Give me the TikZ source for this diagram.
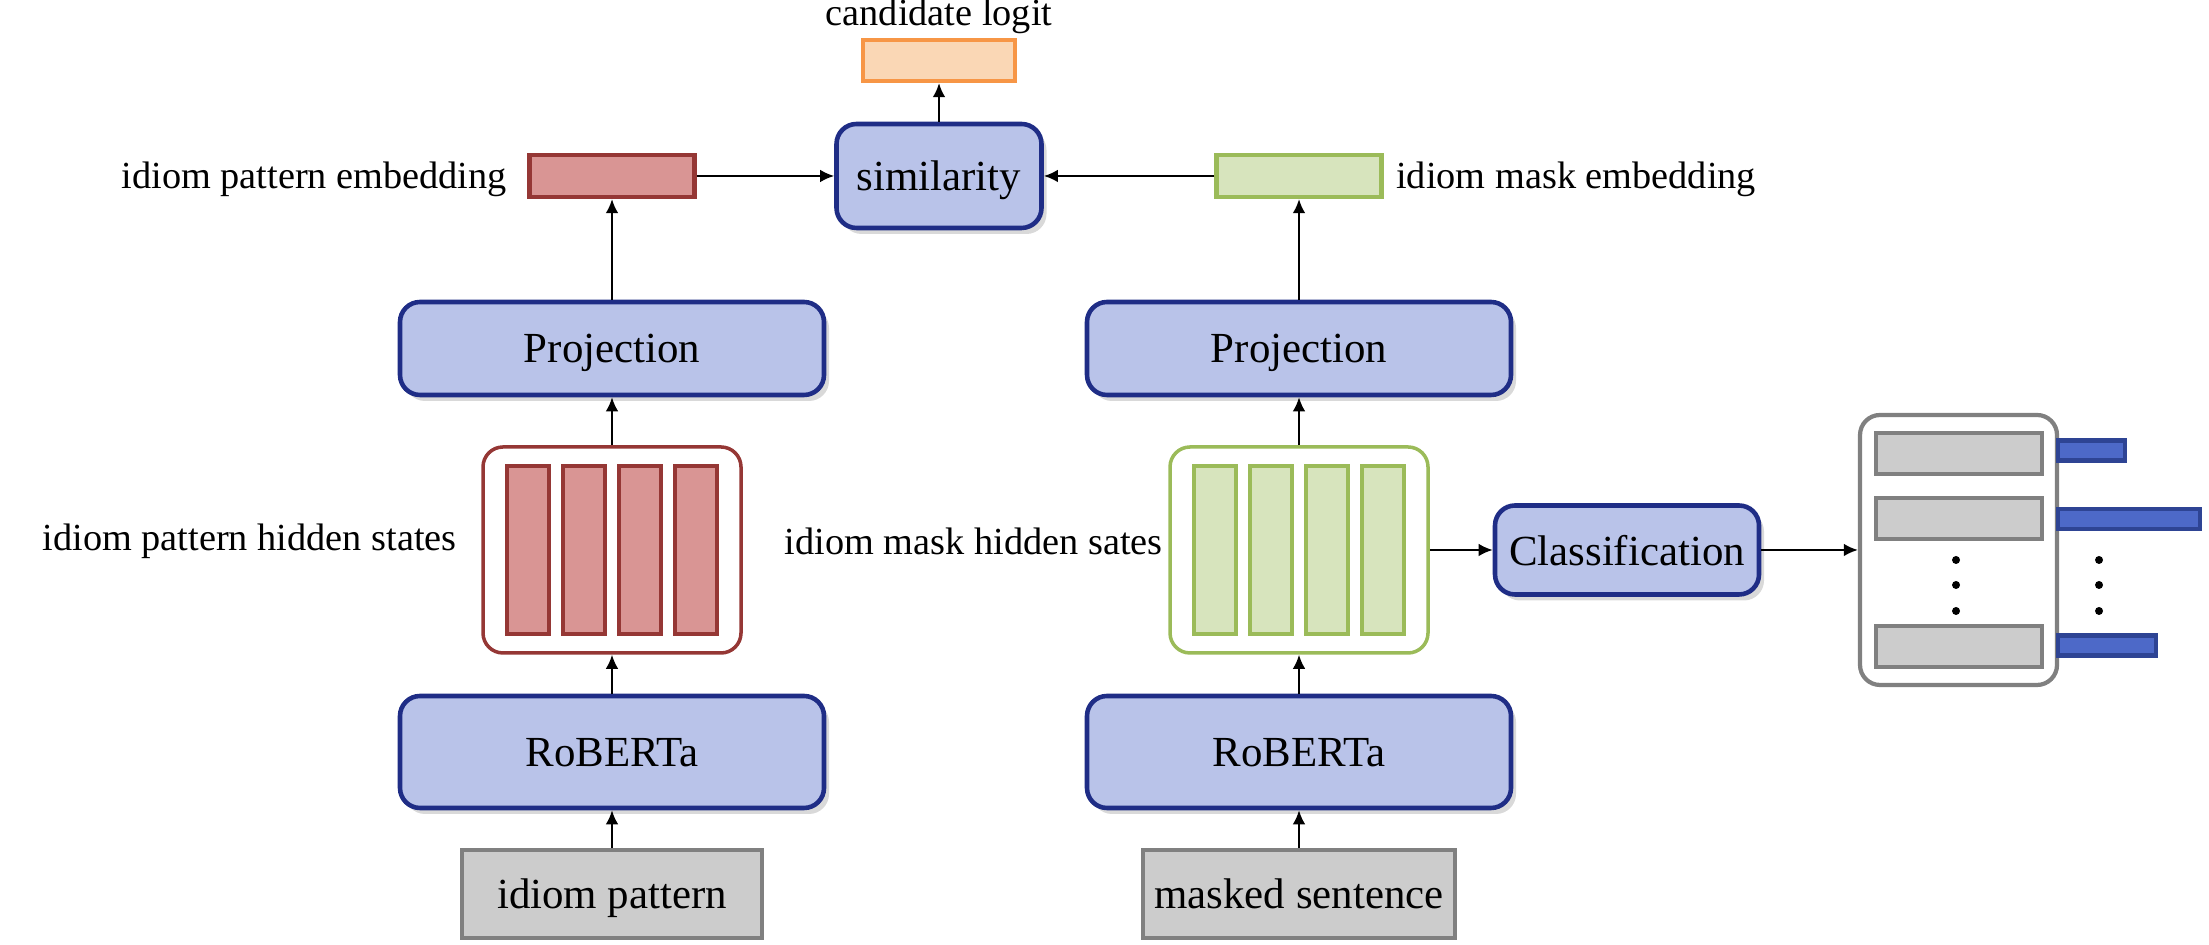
\documentclass[tikz,border=0pt]{standalone}
\usepackage{fontspec}
\setmainfont{Liberation Serif}
\usetikzlibrary{arrows.meta,positioning,shadows}

\definecolor{blockfill}{HTML}{B9C3E9}
\definecolor{blockline}{HTML}{1F2D86}
\definecolor{redfill}{HTML}{D99594}
\definecolor{redline}{HTML}{953735}
\definecolor{greenfill}{HTML}{D7E4BD}
\definecolor{greenline}{HTML}{9BBB59}
\definecolor{orangefill}{HTML}{FAD7B5}
\definecolor{orangeline}{HTML}{F79646}
\definecolor{grayfill}{HTML}{CCCCCC}
\definecolor{grayline}{HTML}{808080}
\definecolor{scorefill}{HTML}{4D69C8}
\definecolor{scoreline}{HTML}{2E4494}

\begin{document}
\begin{tikzpicture}[
    block/.style={draw=blockline, line width=1.3pt, fill=blockfill, rounded corners=0.2cm,
        font=\fontsize{12.2}{14}\selectfont, text depth=0pt,
        drop shadow={shadow xshift=0.05cm, shadow yshift=-0.06cm, opacity=0.3}},
    inbox/.style={draw=grayline, line width=1.2pt, fill=grayfill, minimum width=3cm,
        minimum height=0.88cm, font=\fontsize{12.2}{14}\selectfont, text depth=0pt},
    vec/.style={line width=1.2pt, minimum width=1.65cm, minimum height=0.42cm, inner sep=0pt},
    holder/.style={line width=1pt, fill=white, rounded corners=0.2cm, inner sep=0pt},
    hbar/.style={line width=1pt, minimum width=0.42cm, minimum height=1.68cm, inner sep=0pt},
    lbl/.style={inner sep=0pt, font=\fontsize{10.9}{13}\selectfont},
    conn/.style={-{Latex[length=4pt,width=3.6pt]}, line width=0.6pt}
]
    \useasboundingbox (0,0) rectangle (22.09,9.45);

    \node[inbox] (in1) at (6.12,0.51) {idiom pattern};
    \node[inbox] (in2) at (12.99,0.51) {masked sentence};
    \node[block, minimum width=4.24cm, minimum height=1.12cm] (rob1) at (6.12,1.93) {RoBERTa};
    \node[block, minimum width=4.24cm, minimum height=1.12cm] (rob2) at (12.99,1.93) {RoBERTa};
    \node[holder, draw=redline, minimum width=2.58cm, minimum height=2.06cm] (hid1) at (6.12,3.95) {};
    \node[holder, draw=greenline, minimum width=2.58cm, minimum height=2.06cm] (hid2) at (12.99,3.95) {};
    \foreach \x in {5.28,5.84,6.40,6.96}
        \node[hbar, draw=redline, fill=redfill] at (\x,3.95) {};
    \foreach \x in {12.15,12.71,13.27,13.83}
        \node[hbar, draw=greenline, fill=greenfill] at (\x,3.95) {};
    \node[block, minimum width=4.24cm, minimum height=0.93cm] (proj1) at (6.12,5.965) {Projection};
    \node[block, minimum width=4.24cm, minimum height=0.93cm] (proj2) at (12.99,5.965) {Projection};
    \node[vec, draw=redline, fill=redfill] (pemb) at (6.12,7.69) {};
    \node[vec, draw=greenline, fill=greenfill] (memb) at (12.99,7.69) {};
    \node[block, minimum width=2.05cm, minimum height=1.04cm] (sim) at (9.39,7.69) {similarity};
    \node[vec, draw=orangeline, fill=orangefill, minimum width=1.52cm, minimum height=0.41cm] (logit) at (9.39,8.845) {};
    \node[block, minimum width=2.64cm, minimum height=0.89cm] (cls) at (16.27,3.95) {Classification};

    \node[lbl, above=1pt of logit] {candidate logit};
    \node[lbl, left=0.2cm of pemb, yshift=-0.03cm] {idiom pattern embedding};
    \node[lbl, right=0.12cm of memb, yshift=-0.03cm] {idiom mask embedding};
    \node[lbl, left=0.24cm of hid1, yshift=0.09cm] {idiom pattern hidden states};
    \node[lbl, left=0.05cm of hid2, yshift=0.09cm] {idiom mask hidden sates};

    \node[holder, draw=grayline, line width=1.2pt, minimum width=1.97cm, minimum height=2.70cm] (out) at (19.585,3.95) {};
    \foreach \y in {4.915,4.265,2.985}
        \node[vec, draw=grayline, fill=grayfill, minimum width=1.66cm, minimum height=0.41cm] at (19.59,\y) {};
    \node[vec, draw=scoreline, fill=scorefill, anchor=west, minimum width=0.67cm, minimum height=0.2cm] at (20.56,4.945) {};
    \node[vec, draw=scoreline, fill=scorefill, anchor=west, minimum width=1.42cm, minimum height=0.2cm] at (20.56,4.26) {};
    \node[vec, draw=scoreline, fill=scorefill, anchor=west, minimum width=0.98cm, minimum height=0.2cm] at (20.56,2.995) {};
    \foreach \y in {3.85,3.60,3.34} {
        \fill (19.56,\y) circle (0.04);
        \fill (20.99,\y) circle (0.04);
    }

    \draw[conn] (in1) -- (rob1);
    \draw[conn] (rob1) -- (hid1);
    \draw[conn] (hid1) -- (proj1);
    \draw[conn] (proj1) -- (pemb);
    \draw[conn] (in2) -- (rob2);
    \draw[conn] (rob2) -- (hid2);
    \draw[conn] (hid2) -- (proj2);
    \draw[conn] (proj2) -- (memb);
    \draw[conn] (pemb) -- (sim);
    \draw[conn] (memb) -- (sim);
    \draw[conn] (sim) -- (logit);
    \draw[conn] (hid2) -- (cls);
    \draw[conn] (cls) -- (out);
\end{tikzpicture}
\end{document}
